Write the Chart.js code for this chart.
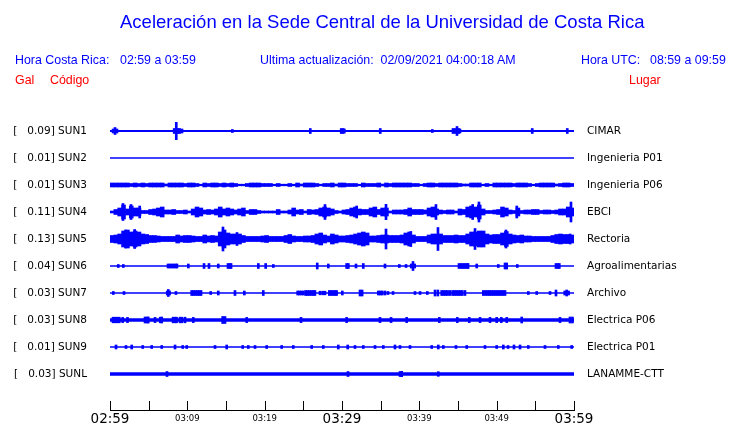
<!DOCTYPE html>
<html>
<head>
<meta charset="utf-8">
<script src="https://cdn.jsdelivr.net/npm/chart.js@4.4.1/dist/chart.umd.min.js"></script>
<style>
  body { margin: 0; background: #fff; }
  #wrap { position: relative; width: 740px; height: 423px; }
  #wrap canvas { position: absolute; left: 0; top: 0; }
  .t { position: absolute; font-family: "Liberation Sans", Arial, sans-serif; font-size: 12.4px; line-height: 14px; white-space: pre; color: #0000ff; }
  .red { color: #ff0000; }
  #title { font-size: 18.5px; line-height: 22px; }
</style>
</head>
<body>
<div id="wrap">
  <canvas id="chart1" width="740" height="423"></canvas>
  <div class="t" id="title" style="left:120px;top:11px">Aceleración en la Sede Central de la Universidad de Costa Rica</div>
  <div class="t" style="left:15px;top:53px">Hora Costa Rica:</div>
  <div class="t" style="left:120px;top:53px">02:59 a 03:59</div>
  <div class="t" style="left:260px;top:53px">Ultima actualización:  02/09/2021 04:00:18 AM</div>
  <div class="t" style="left:581px;top:53px">Hora UTC:</div>
  <div class="t" style="left:650px;top:53px">08:59 a 09:59</div>
  <div class="t red" style="left:15px;top:73px">Gal</div>
  <div class="t red" style="left:50px;top:73px">Código</div>
  <div class="t red" style="left:629px;top:73px">Lugar</div>
</div>
<script>
// station codes, peak acceleration (Gal) and place names, top to bottom
const codes = ['SUN1', 'SUN2', 'SUN3', 'SUN4', 'SUN5', 'SUN6', 'SUN7', 'SUN8', 'SUN9', 'SUNL'];
const peakGal = ['0.09', '0.01', '0.01', '0.11', '0.13', '0.04', '0.03', '0.03', '0.01', '0.03'];
const places = ['CIMAR', 'Ingenieria P01', 'Ingenieria P06', 'EBCI', 'Rectoria',
                'Agroalimentarias', 'Archivo', 'Electrica P06', 'Electrica P01', 'LANAMME-CTT'];

// time axis: minutes after 02:59, labelled every 10 min
const tickMinutes = [0, 5, 10, 15, 20, 25, 30, 35, 40, 45, 50, 55, 60];
const timeLabels = ['02:59', '03:09', '03:19', '03:29', '03:39', '03:49', '03:59'];

// amplitudes are half-heights, 27 units = distance between two traces
const traceGap = 27;
const baseAmp = [1, 0.7, 0.8, 1, 2.3, 0.8, 0.8, 1.7, 0.7, 1.8];

// envelopes every half minute (120 values) for the busy stations
const sun3Env = [2, 2, 2, 2, 2, 1.5, 2, 1.5, 2, 1.5, 2, 2, 2, 2, 1, 2, 2, 2, 2, 1.5,
                 2, 2, 1.5, 0.8, 2, 1.5, 2, 2, 1.5, 2, 1.5, 2, 1.5, 0.8, 0.8, 1.5, 2, 2, 2, 1.5,
                 1.5, 1.5, 0.8, 1.5, 0.8, 0.8, 1.5, 0.8, 2, 1, 2, 2, 2, 1.5, 0.8, 1.5, 1.5, 2, 1, 2,
                 2, 1.5, 1.5, 1.5, 0.8, 2, 1.5, 1.5, 1.5, 2, 1, 2, 1.5, 2, 2, 2, 2, 2, 1.5, 1.5,
                 0.8, 1.5, 2, 2, 1.5, 2, 2, 2, 2, 2, 1.5, 1, 1, 2, 2, 2, 0.8, 1.5, 0.8, 2,
                 2, 2, 2, 2, 1.5, 2, 2, 2, 1.5, 0.8, 1.5, 2, 2, 2, 2, 1, 1.5, 2, 2, 1.5];
const sun4Env = [1, 2.5, 4, 7, 3, 6, 4, 4, 1.5, 1.5, 2.5, 3, 4, 5, 2, 2, 2.5, 1.5, 1.5, 2,
                 1, 3, 5, 4, 2, 2.5, 2, 3, 5, 3, 4, 3, 2, 3, 4, 1.5, 2.5, 2.5, 1.5, 1,
                 1, 1, 1, 2.5, 1, 1, 2, 4, 2, 2.5, 1, 2.5, 2, 2.5, 4, 5, 4, 3, 1.5, 1,
                 2, 2.5, 4, 5, 3, 2.5, 2.5, 4, 5, 2.5, 4, 4, 1, 2, 2, 2, 2.5, 4, 2.5, 2.5,
                 2.5, 2, 4, 5, 3, 2, 1.5, 2, 2, 1, 3, 2.5, 5, 6, 5, 7, 3, 1.5, 1.5, 2,
                 2.5, 5, 4, 2, 1.5, 4, 1.5, 2, 2, 2.5, 2.5, 1.5, 2, 2, 1.5, 2, 3, 3, 5, 4];
const sun5Env = [3.5, 4, 5, 8, 9, 7, 8, 7, 5, 4.5, 3.5, 3.5, 3, 2.5, 2.5, 2.5, 2.5, 4, 3, 3.5,
                 3.5, 3, 2.5, 2.5, 4, 3, 3.5, 3, 7, 9, 6, 5, 5, 5, 3.5, 2.5, 2.5, 2.5, 2.5, 3,
                 3.5, 2.5, 2.5, 2.5, 2.5, 3.5, 4.5, 3, 2.5, 2.5, 3, 3, 3.5, 5, 6, 4, 3, 5, 4, 3,
                 3, 3.5, 4, 5, 6, 7, 6, 3, 3, 3.5, 4, 4, 3.5, 3.5, 3.5, 4, 6, 7, 4, 2.5,
                 2.5, 2.5, 4, 5, 5, 5, 3.5, 3.5, 3.5, 4, 3.5, 3.5, 5, 7, 7, 8, 8, 5, 4, 4.5,
                 4.5, 6, 7.5, 5, 4, 3.5, 4, 3, 3, 2.5, 2.5, 2.5, 2.5, 2.5, 3.5, 4.5, 5, 4.5, 4.5, 4];

// single events [minute, half-height]
const sun1Marks = [[0.4, 2], [0.65, 3.5], [0.9, 2], [8.3, 2.5], [8.57, 8.7], [8.8, 2.5], [9.0, 2.5],
                   [9.31, 2], [15.82, 1.5], [25.9, 2.5], [29.9, 2.5], [30.15, 2.5], [30.3, 2],
                   [34.95, 2.5], [41.68, 1.5], [44.35, 2.5], [44.6, 2.5], [44.87, 4.5], [45.1, 2.5],
                   [45.25, 2], [54.6, 2.5], [59.13, 2.5]];
const sun2Marks = [];
const sun3Marks = [];
const sun4Marks = [[1.68, 8.5], [2.72, 7.5], [3.84, 6], [27.8, 7.5], [31.9, 6], [35.69, 7.7],
                   [42.15, 7.5], [46.9, 7.5], [47.71, 10], [52.6, 6], [59.61, 10]];
const sun5Marks = [[2.0, 9], [3.19, 9.5], [14.61, 12], [16.42, 6.5], [35.69, 10], [38.9, 7.5],
                   [42.41, 11.5], [47.2, 10.5], [51.2, 9], [59.5, 5]];
const sun6Marks = [[1.07, 1.5], [1.72, 1.5], [7.5, 2], [7.75, 2], [8.0, 2], [8.25, 2], [8.5, 2],
                   [8.66, 2], [10.13, 2], [12.16, 2.5], [12.8, 2.5], [14.0, 2], [15.26, 2.5],
                   [15.5, 2.5], [15.65, 2.5], [19.18, 2.5], [20.13, 2.5], [21.12, 1.5], [26.8, 3],
                   [28.23, 2], [30.6, 2.5], [30.82, 2.5], [31.81, 2], [32.75, 2.5], [35.56, 2],
                   [37.41, 1.5], [38.28, 1.5], [38.95, 2], [39.18, 4.5], [39.4, 2], [45.13, 2.5],
                   [45.4, 2.5], [45.65, 2.5], [45.9, 2.5], [46.15, 2.5], [46.3, 2.5], [47.42, 2],
                   [50.21, 1.5], [51.08, 3], [51.3, 3], [52.67, 1.5], [57.67, 2.5], [57.9, 2.5],
                   [58.1, 2.5]];
const sun7Marks = [[0.43, 1.5], [1.81, 1.5], [7.4, 2], [7.54, 3.5], [7.7, 2], [8.53, 1.5],
                   [10.56, 2.5], [10.8, 2.5], [11.05, 2.5], [11.3, 2.5], [11.55, 2.5], [11.77, 2.5],
                   [13.02, 1.5], [14.0, 2], [16.16, 2.5], [17.37, 2], [19.82, 2.5], [24.27, 2],
                   [24.5, 2], [24.75, 2], [25.0, 2], [25.3, 2.5], [25.55, 2.5], [25.8, 2.5],
                   [26.05, 2.5], [26.3, 2.5], [26.5, 2.5], [27.15, 1.8], [27.5, 1.8], [27.8, 1.8],
                   [28.36, 2.5], [28.6, 2.5], [28.85, 2.5], [29.1, 2.5], [29.3, 2.5], [30.04, 2],
                   [32.33, 3], [32.6, 3], [34.7, 2], [34.95, 2], [35.2, 2], [35.56, 2], [35.95, 1.5],
                   [36.6, 1.5], [39.44, 1.5], [40.09, 1.5], [41.03, 1.5], [42.03, 3], [42.4, 3],
                   [42.89, 2.5], [43.15, 2.5], [43.4, 2.5], [43.65, 2.5], [43.96, 2.5], [44.31, 2.5],
                   [44.55, 2.5], [44.8, 2.5], [45.05, 2.5], [45.3, 2.5], [45.55, 2.5], [45.9, 2.5],
                   [48.27, 2.5], [48.55, 2.5], [48.8, 2.5], [49.05, 2.5], [49.3, 2.5], [49.55, 2.5],
                   [49.8, 2.5], [50.05, 2.5], [50.3, 2.5], [50.55, 2.5], [50.8, 2.5], [51.08, 2.5],
                   [54.09, 1.5], [55.18, 1.5], [56.9, 1.5], [57.67, 3], [58.8, 2], [59.05, 3], [59.3, 2]];
const sun8Marks = [[0.39, 2.8], [0.65, 2.8], [0.9, 2.8], [1.2, 2.8], [1.64, 2.6], [2.26, 2.6],
                   [4.53, 3], [4.8, 3], [4.95, 3], [5.82, 2.6], [6.5, 2.8], [6.69, 3], [8.15, 2.8],
                   [8.4, 2.8], [8.6, 2.8], [9.05, 2.8], [9.3, 2.8], [9.7, 2.8], [10.77, 2.6],
                   [14.57, 3.5], [14.87, 3.5], [17.68, 2.6], [24.7, 2.6], [30.6, 2.6], [34.91, 2.6],
                   [36.34, 2.6], [38.36, 2.6], [42.58, 2.6], [44.91, 2.6], [46.46, 2.6], [47.85, 2.6],
                   [49.14, 2.6], [50.0, 2.6], [50.6, 2.6], [51.3, 2.6], [53.24, 3], [58.19, 2.6],
                   [59.48, 3], [59.8, 3]];
const sun9Marks = [[0.78, 2], [2.07, 1.5], [2.81, 2], [4.23, 1.5], [5.39, 1.5], [6.69, 1.5],
                   [8.41, 2], [9.4, 1.5], [9.92, 1.5], [13.58, 1.5], [15.09, 2], [17.16, 1.5],
                   [17.88, 1.5], [18.75, 1.5], [20.26, 1.5], [22.2, 1.5], [23.7, 1.5], [26.08, 1.5],
                   [27.58, 1.5], [29.52, 2], [30.74, 2], [31.68, 1.5], [32.75, 1.5], [34.27, 1.5],
                   [35.34, 1.5], [36.85, 2], [37.5, 1.5], [38.79, 1.5], [41.6, 1.5], [42.45, 2],
                   [43.1, 1.5], [44.74, 1.5], [46.13, 1.5], [48.49, 1.5], [50.0, 1.5], [50.86, 2],
                   [51.47, 1.5], [52.24, 2], [53.02, 2], [54.09, 1.5], [56.25, 1.5], [57.97, 1.5],
                   [59.7, 1.5]];
const sunlMarks = [[7.37, 2.5], [30.78, 2.5], [37.5, 2.5], [37.72, 2.7], [42.45, 2.3]];

const envs = [null, null, sun3Env, sun4Env, sun5Env, null, null, null, null, null];
const marks = [sun1Marks, sun2Marks, sun3Marks, sun4Marks, sun5Marks,
               sun6Marks, sun7Marks, sun8Marks, sun9Marks, sunlMarks];

const traceColor = '#0000ff';
const datasets = [];
codes.forEach(function(code, i) {
    const pos = codes.length - 1 - i;
    datasets.push({
        type: 'line',
        data: [{ x: 0, y: pos }, { x: 60, y: pos }],
        borderColor: traceColor,
        borderWidth: baseAmp[i] * 2,
        pointRadius: 0
    });
    if (envs[i]) {
        datasets.push({
            type: 'bar',
            data: envs[i].map(function(a, k) {
                return { x: k * 0.5 + 0.25, y: [pos - a / traceGap, pos + a / traceGap] };
            }),
            backgroundColor: traceColor,
            grouped: false,
            barThickness: 3.9
        });
    }
    datasets.push({
        type: 'bar',
        data: marks[i].map(function(m) {
            return { x: m[0], y: [pos - m[1] / traceGap, pos + m[1] / traceGap] };
        }),
        backgroundColor: traceColor,
        grouped: false,
        barThickness: 2
    });
});

// tick marks of the time axis point upwards from the axis line
const upTicks = {
    id: 'upTicks',
    afterDraw: function(chart) {
        const s = chart.scales.x;
        const ctx = chart.ctx;
        const b = chart.chartArea.bottom;
        ctx.save();
        ctx.strokeStyle = '#000';
        ctx.lineWidth = 1;
        s.ticks.forEach(function(t) {
            const px = Math.round(s.getPixelForValue(t.value)) + 0.5;
            ctx.beginPath();
            ctx.moveTo(px, b);
            ctx.lineTo(px, b - 9);
            ctx.stroke();
        });
        ctx.restore();
    }
};

const yMin = -36 / 27;
const yMax = 9 + 18 / 27;

function noVPadding(s) {
    s.paddingTop = 0;
    s.paddingBottom = 0;
}

const ctx1 = document.getElementById('chart1').getContext('2d');
new Chart(ctx1, {
    type: 'bar',
    data: { datasets: datasets },
    options: {
        responsive: false,
        animation: false,
        layout: { padding: { top: 113, left: 0, right: 0, bottom: 0 } },
        plugins: { legend: { display: false }, tooltip: { enabled: false } },
        scales: {
            x: {
                type: 'linear', min: 0, max: 60, offset: false,
                grid: { display: false, drawTicks: false },
                border: { display: true, color: '#000', width: 1 },
                afterBuildTicks: function(s) {
                    s.ticks = tickMinutes.map(function(v) { return { value: v }; });
                },
                ticks: {
                    autoSkip: false, maxRotation: 0, padding: 0, color: '#000',
                    callback: function(v) { return v % 10 === 0 ? timeLabels[v / 10] : ''; },
                    font: function(c) {
                        const big = c.tick && c.tick.value % 30 === 0;
                        return { family: 'DejaVu Sans', size: big ? 13.5 : 8.5, lineHeight: '18px' };
                    }
                },
                afterFit: function(s) { s.height = 13; }
            },
            y: {
                type: 'linear', position: 'left', min: yMin, max: yMax,
                grid: { display: false, drawTicks: false },
                border: { display: false },
                afterBuildTicks: function(s) {
                    s.ticks = codes.map(function(c, i) { return { value: codes.length - 1 - i }; });
                },
                ticks: {
                    autoSkip: false, padding: 23, color: '#000',
                    font: { family: 'DejaVu Sans', size: 10.5 },
                    callback: function(v) {
                        const i = codes.length - 1 - Math.round(v);
                        return '[   ' + peakGal[i] + '] ' + codes[i];
                    }
                },
                afterFit: function(s) { s.width = 110; noVPadding(s); }
            },
            yr: {
                type: 'linear', position: 'right', min: yMin, max: yMax,
                grid: { display: false, drawTicks: false },
                border: { display: false },
                afterBuildTicks: function(s) {
                    s.ticks = places.map(function(p, i) { return { value: places.length - 1 - i }; });
                },
                ticks: {
                    autoSkip: false, padding: 13, color: '#000',
                    font: { family: 'DejaVu Sans', size: 10.5 },
                    callback: function(v) { return places[places.length - 1 - Math.round(v)]; }
                },
                afterFit: function(s) { s.width = 166; noVPadding(s); }
            }
        }
    },
    plugins: [upTicks]
});
</script>
</body>
</html>
